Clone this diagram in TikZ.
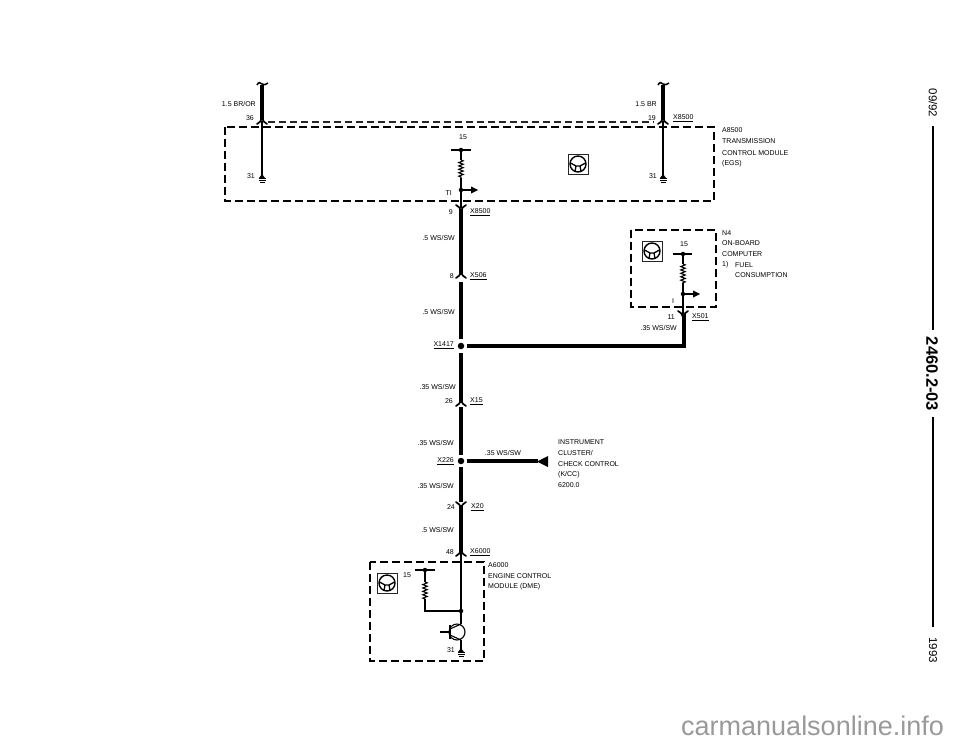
\documentclass[tikz,border=0pt]{standalone}
\usepackage{fontspec}
\setmainfont{Liberation Sans}
\usetikzlibrary{decorations.pathmorphing}
\tikzset{
 x=1pt,y=-1pt,
 lbl/.style={inner sep=0pt,font=\fontsize{7}{8}\selectfont,text=black},
 lblr/.style={lbl,anchor=east},
 lbll/.style={lbl,anchor=west},
 thick wire/.style={line width=4pt,black},
 thin wire/.style={line width=1.1pt,black},
 module/.style={line width=1.8pt,black,dash pattern=on 8pt off 4pt},
 shield/.style={line width=1.2pt,black!85,dash pattern=on 7pt off 4pt},
 dot/.style={circle,fill=black,inner sep=0pt,minimum size=4.5pt},
 bigdot/.style={circle,fill=black,inner sep=0pt,minimum size=6.5pt},
 res/.style={decorate,decoration={zigzag,segment length=3.4pt,amplitude=2.2pt},line width=1.1pt},
 pt/.style={inner sep=0pt,minimum size=0pt},
}
\newcommand{\gnd}[1]{%
 \draw[line width=1pt] ([xshift=-3.5pt,yshift=-.5pt]#1) -- ([xshift=3.5pt,yshift=-.5pt]#1);
 \draw[line width=1pt] ([xshift=-3.5pt,yshift=-2.2pt]#1) -- ([xshift=3.5pt,yshift=-2.2pt]#1);
 \draw[line width=1pt] ([xshift=-2.5pt,yshift=-4pt]#1) -- ([xshift=2.5pt,yshift=-4pt]#1);
 \fill ([yshift=4pt]#1) -- ([xshift=-3pt]#1) -- ([xshift=3pt]#1) -- cycle;
}
\newcommand{\conn}[2]{%
 \draw[line width=1.7pt,line cap=round] ([xshift=-5pt,yshift=#2*-3pt]#1) .. controls ([xshift=-2pt,yshift=#2*-2pt]#1) and ([xshift=-1pt,yshift=#2*.5pt]#1) .. ([yshift=#2*3pt]#1) .. controls ([xshift=1pt,yshift=#2*.5pt]#1) and ([xshift=2pt,yshift=#2*-2pt]#1) .. ([xshift=5pt,yshift=#2*-3pt]#1);
}
\newcommand{\plug}[2]{%
 \begin{scope}[shift={(#1,#2)}]
 \draw[line width=1pt,black!85] (-10,-10) rectangle (10,10);
 \draw[line width=1.4pt] (0,0) circle (8);
 \draw[line width=1.3pt] (-7.5,-1) -- (-2,2) -- (2,2) -- (7.5,-1) (-2,2) -- (-3,7.5) (2,2) -- (3,7.5);
 \end{scope}
}
\begin{document}
\begin{tikzpicture}
\useasboundingbox (0,0) rectangle (960,744);
% ---- A8500 module
\draw[module] (225,127) rectangle (714,201);
\draw[shield] (268,122) -- (654,122);
% pin 36 wire
\coordinate (a36) at (262,121);
\coordinate (a31) at (262,178);
\coordinate (atop) at (262,85);
\draw[line width=4pt] (atop) -- ([yshift=1pt]a36);
\draw[line width=1.5pt] (257,85) .. controls (259,81) and (260,83) .. (262,84) .. controls (264,85) and (266,85) .. (268,83);
\conn{a36}{1}
\draw[thin wire] (a36) -- (a31);
\gnd{a31}
% pin 19 wire
\coordinate (b19) at (663,121);
\coordinate (b31) at (663,178);
\coordinate (btop) at (663,85);
\draw[line width=4pt] (btop) -- ([yshift=1pt]b19);
\draw[line width=1.5pt] (658,85) .. controls (660,81) and (661,83) .. (663,84) .. controls (665,85) and (667,85) .. (669,83);
\conn{b19}{1}
\draw[thin wire] (b19) -- (b31);
\gnd{b31}
\node[lblr] at (256,104) {1.5 BR/OR};
\node[lblr] at (254,118) {36};
\node[lblr] at (657,104) {1.5 BR};
\node[lblr] at (656,118) {19};
\node[lbll] (x8500a) at (673,118) {\underline{X8500}};
\node[lblr] at (255,176) {31};
\node[lblr] at (657,176) {31};
\plug{578}{164}
\node[lbll] at (722,130) {A8500};
\node[lbll] at (722,141.500) {TRANSMISSION};
\node[lbll] at (722,153) {CONTROL MODULE};
\node[lbll] at (722,164) {(EGS)};
% TI circuit
\node[lbl] at (463,137) {15};
\node[dot] (tp) at (461,150) {};
\draw[thin wire] (451,150) -- (471,150);
\coordinate (r1) at (461,160);
\coordinate (r2) at (461,178);
\draw[thin wire] (tp) -- (r1);
\draw[res] (r1) -- (r2);
\node[dot] (ti) at (461,190) {};
\draw[thin wire] (r2) -- (ti);
\draw[thin wire] (ti) -- (472,190);
\fill (471,186.500) -- (478,190) -- (471,193.500) -- cycle;
\node[lblr] at (452,193) {TI};
\coordinate (p9) at (461,208);
\draw[thin wire] (ti) -- (p9);
\conn{p9}{-1}
\node[lblr] at (453,212) {9};
\node[lbll] at (470,212) {\underline{X8500}};
% main vertical
\coordinate (p8) at (461,275);
\draw[thick wire] (461,209) -- (461,275);
\conn{p8}{1}
\node[lblr] at (454,276) {8};
\node[lbll] at (470,276) {\underline{X506}};
\node[lblr] at (455,238) {.5 WS/SW};
\node[lblr] at (455,311.500) {.5 WS/SW};
\node[bigdot] (x1417) at (461,346) {};
\draw[thick wire] (461,282) -- (461,339);
\node[lblr] at (454,345) {\underline{X1417}};
% N4
\draw[module] (631,230) rectangle (716,307);
\plug{652}{251}
\node[lbl] at (684,244) {15};
\node[dot] (np) at (683,254) {};
\draw[thin wire] (673,254) -- (692,254);
\coordinate (nr1) at (683,264);
\coordinate (nr2) at (683,283);
\draw[thin wire] (np) -- (nr1);
\draw[res] (nr1) -- (nr2);
\node[dot] (nt) at (683,294) {};
\draw[thin wire] (nr2) -- (nt);
\draw[thin wire] (nt) -- (694,294);
\fill (693,290.500) -- (700,294) -- (693,297.500) -- cycle;
\node[lbl] at (673,301) {I};
\coordinate (n11) at (683,314);
\draw[thin wire] (nt) -- (n11);
\conn{n11}{-1}
\node[lblr] at (675,317) {11};
\node[lbll] at (692,317) {\underline{X501}};
\node[lblr] at (677,328) {.35 WS/SW};
\draw[thick wire] (467,346) -- (684,346) -- (684,314);
\node[lbll] at (722,233) {N4};
\node[lbll] at (722,243.500) {ON-BOARD};
\node[lbll] at (722,254.500) {COMPUTER};
\node[lbll] at (722,265) {1)};
\node[lbll] at (735,265) {FUEL};
\node[lbll] at (735,275.500) {CONSUMPTION};
% lower chain
\coordinate (p26) at (461,403);
\draw[thick wire] (461,353) -- (461,403);
\conn{p26}{1}
\node[lblr] at (453,401) {26};
\node[lbll] at (470,401) {\underline{X15}};
\node[lblr] at (456,386.500) {.35 WS/SW};
\node[lblr] at (454,443) {.35 WS/SW};
\node[bigdot] (x226) at (461,461) {};
\draw[thick wire] (461,407) -- (461,455);
\node[lblr] at (454,461) {\underline{X226}};
\draw[thick wire] (467,461) -- (538,461);
\fill (548,456) -- (537,461.500) -- (548,467) -- cycle;
\node[lbl] at (503,453) {.35 WS/SW};
\node[lbll] at (558,442) {INSTRUMENT};
\node[lbll] at (558,453) {CLUSTER/};
\node[lbll] at (558,464) {CHECK CONTROL};
\node[lbll] at (558,475) {(K/CC)};
\node[lbll] at (558,485.500) {6200.0};
\node[lblr] at (454,486) {.35 WS/SW};
\coordinate (p24) at (461,505);
\draw[thick wire] (461,467) -- (461,502);
\conn{p24}{-1}
\node[lblr] at (455,507) {24};
\node[lbll] at (471,507) {\underline{X20}};
\node[lblr] at (454,529.500) {.5 WS/SW};
\coordinate (p48) at (461,553);
\draw[thick wire] (461,505) -- (461,553);
\conn{p48}{1}
\node[lblr] at (454,552) {48};
\node[lbll] at (470,552) {\underline{X6000}};
% A6000
\draw[module] (370,562) rectangle (484,661);
\plug{387}{583}
\node[lbl] at (407,575) {15};
\node[dot] (ep) at (425,570) {};
\draw[thin wire] (415,570) -- (435,570);
\coordinate (er1) at (425,582);
\coordinate (er2) at (425,599);
\draw[thin wire] (ep) -- (er1);
\draw[res] (er1) -- (er2);
\node[dot] (ej) at (461,611) {};
\draw[thin wire] (er2) -- (425,611) -- (ej);
\draw[thin wire] (p48) -- (ej);
\draw[thin wire] (ej) -- (461,624);
\draw[line width=1.1pt] (457,632) circle (8);
\draw[line width=1.2pt] (450,632) -- (440,632);
\draw[line width=1.8pt] (450,625) -- (450,639);
\draw[thin wire] (450,629) -- (461,624);
\draw[thin wire] (450,635) -- (461,640);
\coordinate (eg) at (461,652);
\draw[thin wire] (461,640) -- (eg);
\gnd{eg}
\node[lblr] at (455,650) {31};
\node[lbll] at (488,565) {A6000};
\node[lbll] at (488,576) {ENGINE CONTROL};
\node[lbll] at (488,587) {MODULE (DME)};
% margin strip
\node[inner sep=0pt,rotate=-90,font=\fontsize{11.500}{13}\selectfont] at (933,103) {09/92};
\node[inner sep=0pt,rotate=-90,font=\bfseries\fontsize{16.500}{18}\selectfont] at (932,374) {2460.2-03};
\node[inner sep=0pt,rotate=-90,font=\fontsize{11.500}{13}\selectfont] at (933,650) {1993};
\coordinate (s1) at (933,126);
\coordinate (s2) at (933,330);
\coordinate (s3) at (933,417);
\coordinate (s4) at (933,627);
\draw[line width=2.5pt] (s1) -- (s2);
\draw[line width=2.5pt] (s3) -- (s4);
\node[inner sep=0pt,anchor=base west,text=black!40,font=\fontsize{27}{30}\selectfont] at (681,735) {carmanualsonline.info};
\end{tikzpicture}
\end{document}
